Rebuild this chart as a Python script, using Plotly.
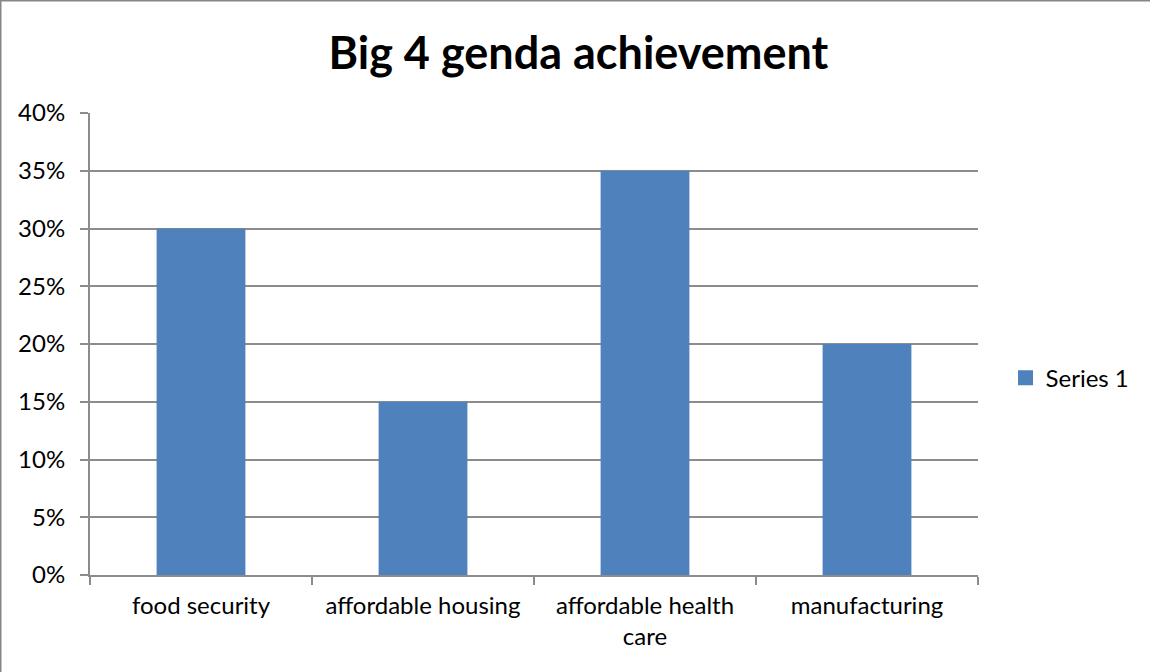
import plotly.graph_objects as go

categories = ["food security", "affordable housing", "affordable health<br>care", "manufacturing"]
series_1 = [0.30, 0.15, 0.35, 0.20]
y_ticks = [0, 0.05, 0.10, 0.15, 0.20, 0.25, 0.30, 0.35, 0.40]
y_tick_labels = ["0%", "5%", "10%", "15%", "20%", "25%", "30%", "35%", "40%"]

FONT = "Lato, 'Open Sans', sans-serif"
GRID = "#8c8c8c"
BAR_COLOR = "#4f81bd"

fig = go.Figure()
fig.add_trace(go.Bar(
    x=categories,
    y=series_1,
    name="Series 1",
    marker=dict(color=BAR_COLOR, line=dict(width=0)),
    width=0.4,
    showlegend=False,
    legendgroup="s1",
))
# legend key: a larger square swatch for the series
fig.add_trace(go.Scatter(
    x=[None], y=[None],
    mode="markers",
    name="Series 1",
    marker=dict(symbol="square", size=15, color=BAR_COLOR),
    legendgroup="s1",
    hoverinfo="skip",
))

fig.update_layout(
    width=1150,
    height=672,
    margin=dict(l=90, r=172, t=113, b=97),
    paper_bgcolor="white",
    plot_bgcolor="white",
    font=dict(family=FONT, color="black", size=24),
    title=dict(
        text="<b>Big 4 genda achievement</b>",
        x=0.503, xanchor="center",
        y=1 - 53 / 672, yanchor="middle",
        font=dict(family=FONT, size=45, color="black"),
    ),
    showlegend=True,
    legend=dict(
        x=1.031, xanchor="left",
        y=0.426, yanchor="middle",
        font=dict(family=FONT, size=24),
        bgcolor="rgba(0,0,0,0)",
        itemwidth=30,
    ),
    xaxis=dict(
        type="category",
        showline=True, linecolor=GRID, linewidth=2,
        ticks="outside", ticklen=8, tickcolor=GRID, tickwidth=2,
        tickson="boundaries",
        ticklabelstandoff=8,
        showgrid=False,
        tickfont=dict(family=FONT, size=24),
    ),
    yaxis=dict(
        range=[0, 0.40],
        tickvals=y_ticks,
        ticktext=y_tick_labels,
        showline=True, linecolor=GRID, linewidth=2,
        ticks="outside", ticklen=8, tickcolor=GRID, tickwidth=2,
        ticklabelstandoff=10,
        showgrid=True, gridcolor=GRID, gridwidth=2,
        zeroline=False,
        tickfont=dict(family=FONT, size=24),
    ),
    shapes=[
        dict(type="line", xref="paper", yref="paper", x0=-90 / 888, x1=-90 / 888, y0=-97 / 462, y1=113 / 462 + 1,
             line=dict(color="#868686", width=3)),
        dict(type="line", xref="paper", yref="paper", x0=-90 / 888, x1=1 + 172 / 888, y0=1 + 113 / 462, y1=1 + 113 / 462,
             line=dict(color="#868686", width=3)),
    ],
)

fig.write_html("out.html")
